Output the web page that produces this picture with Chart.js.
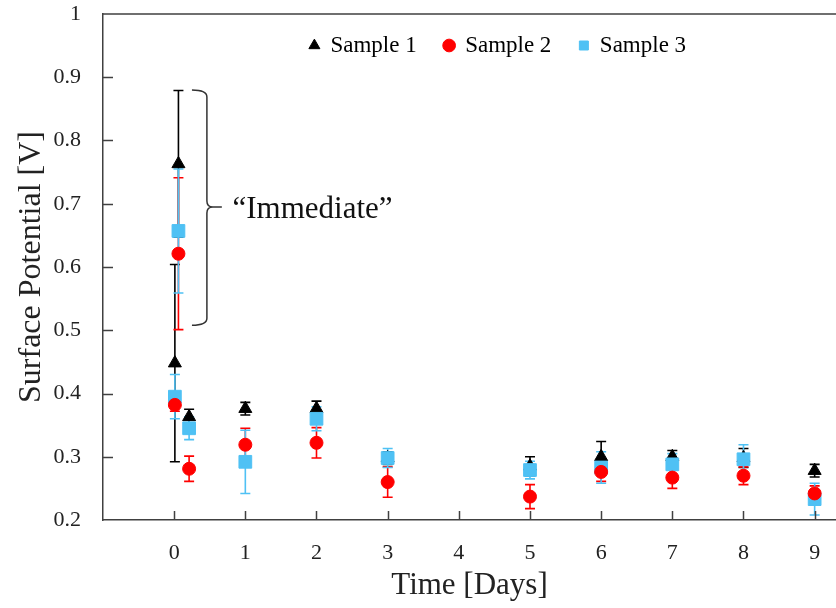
<!DOCTYPE html>
<html>
<head>
<meta charset="utf-8">
<script src="https://cdn.jsdelivr.net/npm/chart.js@4.4.1/dist/chart.umd.min.js"></script>
<style>
  html, body { margin: 0; padding: 0; background: #fff; overflow: hidden; }
  #wrap { width: 836px; height: 608px; }
  canvas { display: block; }
</style>
</head>
<body>
<div id="wrap"><canvas id="chart"></canvas></div>
<script>
// Time points (days) shared by all samples
const days = [0.06, 0.01, 0.21, 1, 2, 3, 5, 6, 7, 8, 9];

// Surface potential [V] and error bars
const sample1 = [0.763, 0.448, 0.363, 0.376, 0.376, 0.298, 0.285, 0.300, 0.300, 0.298, 0.278];
const sample1Err = [0.116, 0.156, 0.012, 0.010, 0.012, 0.010, 0.015, 0.024, 0.010, 0.015, 0.010];

const sample2 = [0.621, 0.382, 0.281, 0.319, 0.322, 0.260, 0.237, 0.276, 0.267, 0.270, 0.242];
const sample2Err = [0.120, 0.010, 0.020, 0.026, 0.024, 0.024, 0.019, 0.015, 0.017, 0.014, 0.012];

const sample3 = [0.657, 0.395, 0.345, 0.292, 0.360, 0.298, 0.279, 0.283, 0.288, 0.296, 0.233];
const sample3Err = [0.098, 0.035, 0.018, 0.050, 0.019, 0.015, 0.014, 0.025, 0.017, 0.023, 0.025];

const seriesNames = ['Sample 1', 'Sample 2', 'Sample 3'];
const yTicks = [0.2, 0.3, 0.4, 0.5, 0.6, 0.7, 0.8, 0.9, 1];
const xTicks = [0, 1, 2, 3, 4, 5, 6, 7, 8, 9];

const serif = "'Times New Roman', 'Liberation Serif', serif";
const BLUE = '#4FC1F4';

function points(ys) {
    return ys.map((y, i) => ({ x: days[i], y: y }));
}

// error bars, drawn under the markers
const errorBars = {
    id: 'errorBars',
    beforeDatasetsDraw(chart) {
        const ctx = chart.ctx;
        const xs = chart.scales.x, ys = chart.scales.y;
        chart.data.datasets.forEach((ds, i) => {
            if (!chart.isDatasetVisible(i)) return;
            ctx.save();
            ctx.strokeStyle = ds.borderColor;
            ctx.lineWidth = 1.6;
            ds.data.forEach((p, j) => {
                const e = ds.errors[j];
                const px = xs.getPixelForValue(p.x);
                const top = ys.getPixelForValue(p.y + e);
                const bot = ys.getPixelForValue(p.y - e);
                ctx.beginPath();
                ctx.moveTo(px, top); ctx.lineTo(px, bot);
                ctx.moveTo(px - 5, top); ctx.lineTo(px + 5, top);
                ctx.moveTo(px - 5, bot); ctx.lineTo(px + 5, bot);
                ctx.stroke();
            });
            ctx.restore();
        });
    }
};

// inward tick marks, top frame line and the "Immediate" bracket
const frame = {
    id: 'frame',
    afterDraw(chart) {
        const ctx = chart.ctx;
        const a = chart.chartArea;
        const xs = chart.scales.x, ys = chart.scales.y;
        ctx.save();
        ctx.strokeStyle = '#404040';
        ctx.lineWidth = 1.5;
        ctx.beginPath();
        ctx.moveTo(a.left, a.top); ctx.lineTo(a.right, a.top);
        xTicks.forEach(v => {
            const px = Math.round(xs.getPixelForValue(v)) + 0.5;
            ctx.moveTo(px, a.bottom); ctx.lineTo(px, a.bottom - 9);
        });
        yTicks.slice(1, -1).forEach(v => {
            const py = Math.round(ys.getPixelForValue(v)) + 0.5;
            ctx.moveTo(a.left, py); ctx.lineTo(a.left + 10, py);
        });
        ctx.stroke();

        // curly bracket
        const x0 = xs.getPixelForValue(0.25), x1 = xs.getPixelForValue(0.46), x2 = xs.getPixelForValue(0.67);
        const yT = ys.getPixelForValue(0.88), yM = ys.getPixelForValue(0.695), yB = ys.getPixelForValue(0.508);
        ctx.strokeStyle = '#333';
        ctx.beginPath();
        ctx.moveTo(x0, yT);
        ctx.quadraticCurveTo(x1, yT, x1, yT + 7);
        ctx.lineTo(x1, yM - 6);
        ctx.quadraticCurveTo(x1, yM, x1 + 6, yM);
        ctx.lineTo(x2, yM);
        ctx.moveTo(x1 + 6, yM);
        ctx.quadraticCurveTo(x1, yM, x1, yM + 6);
        ctx.lineTo(x1, yB - 7);
        ctx.quadraticCurveTo(x1, yB, x0, yB);
        ctx.stroke();

        ctx.fillStyle = '#111';
        ctx.font = '31px ' + serif;
        ctx.textBaseline = 'alphabetic';
        ctx.fillText('\u201CImmediate\u201D', xs.getPixelForValue(0.82), ys.getPixelForValue(0.677));
        ctx.restore();
    }
};

// keep the legend inside the plot area instead of taking space above it
const legendInside = {
    id: 'legendInside',
    beforeLayout(chart) {
        const lg = chart.legend;
        if (lg && !lg._patched) {
            const fit = lg.fit;
            lg.fit = function() { fit.call(this); this.height = 0; };
            lg._patched = true;
        }
    },
    afterLayout(chart) {
        const lg = chart.legend;
        if (!lg) return;
        lg.left = 160;
        lg.right = 836;
        lg.top = 6;
        lg.bottom = 80;
        lg.width = lg.right - lg.left;
        lg.height = lg.bottom - lg.top;
    }
};

new Chart(document.getElementById('chart'), {
    type: 'scatter',
    data: {
        datasets: [
            { label: seriesNames[0], data: points(sample1), errors: sample1Err, order: 2,
              pointStyle: 'triangle', pointRadius: 7.5, backgroundColor: '#000', borderColor: '#000', borderWidth: 1 },
            { label: seriesNames[1], data: points(sample2), errors: sample2Err, order: 0,
              pointStyle: 'circle', pointRadius: 6.5, backgroundColor: '#FF0000', borderColor: '#FF0000', borderWidth: 1 },
            { label: seriesNames[2], data: points(sample3), errors: sample3Err, order: 1,
              pointStyle: 'rect', pointRadius: 9, backgroundColor: BLUE, borderColor: BLUE, borderWidth: 1 }
        ]
    },
    options: {
        responsive: true,
        maintainAspectRatio: false,
        animation: false,
        layout: { autoPadding: false, padding: { top: 14, right: 0, left: 0, bottom: 0 } },
        plugins: {
            tooltip: { enabled: false },
            legend: {
                position: 'top',
                labels: {
                    usePointStyle: true,
                    boxWidth: 9, boxHeight: 9,
                    padding: 28,
                    color: '#000',
                    font: { family: serif, size: 23 },
                    sort: (a, b) => a.datasetIndex - b.datasetIndex
                }
            }
        },
        scales: {
            x: {
                type: 'linear',
                min: -1, max: 9.3,
                afterFit: s => { s.height = 88; },
                grid: { display: false, drawTicks: true, tickLength: 20 },
                border: { display: true, color: '#404040', width: 1.5 },
                ticks: {
                    stepSize: 1, autoSkip: false, includeBounds: false,
                    padding: 0, color: '#222',
                    font: { family: serif, size: 22 },
                    callback: v => (v >= 0 && Number.isInteger(v)) ? String(v) : ''
                },
                title: { display: true, text: 'Time [Days]', color: '#222',
                         font: { family: serif, size: 31 }, padding: { top: 4, bottom: 4 } }
            },
            y: {
                min: 0.2, max: 1,
                afterFit: s => { s.width = 103; },
                grid: { display: false, drawTicks: true, tickLength: 22 },
                border: { display: true, color: '#404040', width: 1.5 },
                ticks: {
                    stepSize: 0.1, padding: 0, color: '#222',
                    font: { family: serif, size: 22 },
                    callback: v => String(Math.round(v * 10) / 10)
                },
                title: { display: true, text: 'Surface Potential [V]', color: '#222',
                         font: { family: serif, size: 32 }, padding: { top: 12, bottom: 4 } }
            }
        }
    },
    plugins: [errorBars, frame, legendInside]
});
</script>
</body>
</html>
